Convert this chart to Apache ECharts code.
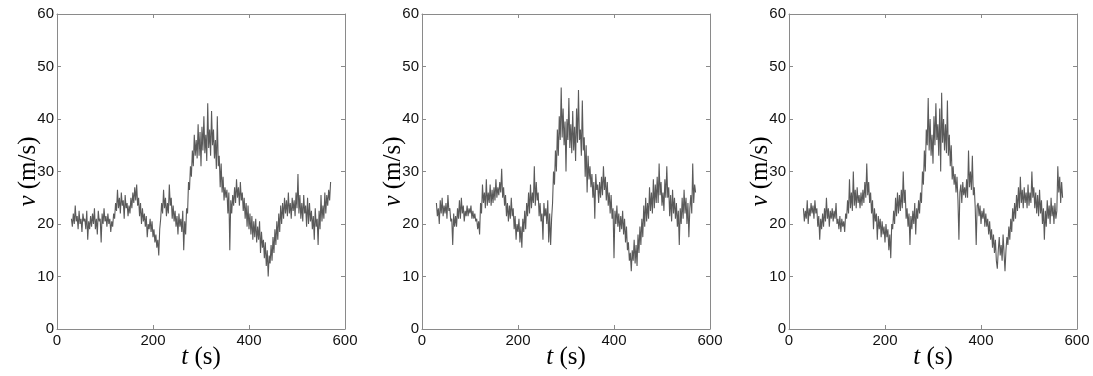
<!DOCTYPE html>
<html>
<head>
<meta charset="utf-8">
<script src="https://cdn.jsdelivr.net/npm/echarts@6/dist/echarts.min.js"></script>
<style>
html,body{margin:0;padding:0;background:#fff;}
#chart{width:1093px;height:376px;}
</style>
</head>
<body>
<div id="chart"></div>
<script>
// ---- data ----
const tStart = 30;   // s
const tStep = 2;     // s
const xTicks = [0, 200, 400, 600];
const yTicks = [0, 10, 20, 30, 40, 50, 60];

const v1 = [
21,19.5,22,20,23.5,20.5,21.5,19,22.5,20,
21,18.5,22,20.5,21,19,22.5,17,20.5,19,
21.5,19.5,22,20,23,19,21,18,22.5,20.5,
21,16.5,22,20,23,20.5,21.5,19.5,22,20,
21,18.5,20.5,19.5,22,21,24,22.5,26.5,23,
25,22,26,23.5,24.5,21,25.5,23,24,21.5,
23.5,22,25,23,26,24,27,24.5,27.5,23.5,
25,21.5,24,20,23,20.5,22,19.5,21.5,17.5,
20,19,21,18.5,20.5,17.5,19,16.5,18,15.5,
17,14,19,21,24,22,26.5,23,25,21.5,
24,22,27.5,23.5,25,21,23.5,20.5,22.5,19.5,
21.5,18,22,19.5,21,18.5,22.5,15,20.5,18,
23,22,28,26.5,31,29,34,31,37,33,
36,32.5,39,33,37.5,31,38.5,34,40.5,33.5,
37,32,43,34.5,38,33,41.5,35,38,32.5,
36,30.5,40.5,31,33,27,31.5,26,29,24.5,
27,25,26.5,22,26,15,24.5,22,25.5,23.5,
27,24,28.5,25,27,23.5,28,24.5,26,22.5,
25,21,24,19.5,23.5,19,22,18,21.5,17,
20.5,17.5,21,16.5,19.5,17,20.5,14.5,18.5,15.5,
17,13.5,16.5,12,15,10,14,12.5,16,13,
17.5,14.5,19,16,20.5,17,22,18.5,23.5,20,
24,21,25,22,24.5,21.5,26,22,24,21,
25,22.5,24.5,21.5,26,23,29.5,22,25.5,21,
24,20.5,25.5,22,23.5,19.5,25,20,24,20.5,
22.5,19,21.5,17,23,19.5,21,16,22.5,19,
25.5,20.5,23.5,21,26,22,25.5,23.5,26.5,24.5,
28
];

const v2 = [
24,21.5,23,20,24.5,22,25,21.5,23.5,22,
24,21,25.5,22.5,23,20.5,21,16,22,19.5,
21.5,19.5,23,21,24.5,21,25,22,23.5,20.5,
22.5,21.5,23.5,21.5,23,22,23.5,21,22.5,21,
22,20.5,21,19,20.5,18,24,22,27.5,24,
26,23,28.5,23.5,26,24,27.5,23.5,26.5,24,
27,24.5,28.5,25,27,25.5,28,26,30.5,25,
27,23.5,25.5,21.5,24,20.5,23.5,21,25,21.5,
23,19,21.5,17,20,18.5,21,16.5,19.5,15.5,
21,18.5,22.5,19,24,21.5,26,22,27.5,23,
26,24,31,23.5,28,24.5,26,21.5,24,20.5,
22,17,24,21.5,23,20,24.5,16.5,22,16,
21,24,30,27.5,34,30,38,33,40.5,36,
46,36.5,42,35,39.5,30,40,36,44,34.5,
39,33.5,41.5,34,38.5,32,42,35.5,45.5,36,
38,33,43.5,34,36.5,29,35,26,33,28.5,
31,27,29.5,25,28,21,29.5,26.5,27.5,24,
28,25,29,25.5,31,26.5,29,24.5,28,23.5,
26,22,25.5,21,23,13.5,22.5,20,23.5,19.5,
22,18.5,21.5,19,22.5,18,21,16.5,19.5,15,
16.5,13,14.5,11,15,13,17,12.5,16,12,
18,14.5,19.5,16,21,17.5,23.5,19.5,25,20.5,
24,21,27,22.5,26,22,28.5,23,27.5,24,
29,24,31.5,25.5,28,23.5,26,22.5,28.5,25,
31,25,27,21.5,25.5,20.5,26.5,22,25,21,
24,19.5,22.5,16,23,20,25,21,26.5,22,
25,20,24,17.5,23,25.5,22,31.5,24,27.5,
26
];

const v3 = [
23,20.5,22.5,21,24.5,20,23,21.5,24,22,
23.5,21,24.5,22,23,19.5,21.5,17,21,19,
22,19.5,23,20.5,25,21,23,19.5,22.5,21,
23,20.5,22.5,21,24,20,21,19,21.5,18.5,
21,19.5,20.5,18.5,22,21,24.5,22,28.5,23,
26,22.5,30,23.5,26.5,23,27,24,25.5,23,
26,23.5,26.5,24,28,25,31.5,25.5,28,24,
26,22,24.5,19,23,20.5,22,17,21.5,19,
21,17.5,20.5,18,19.5,16.5,20,17.5,19,15,
18,13.5,20,19,22.5,20,25,21.5,26,22,
25.5,22.5,26.5,23,30,24,26.5,21,23,19.5,
22,16,21.5,19,22.5,20,24,18,23,21,
24.5,22,26,24,30,27.5,34,30,38,35,
44,34,40,33,37,31.5,40.5,35,43,36,
39,33,42,30,45,35.5,40,34,39,33.5,
43.5,33,37,31,35,28.5,31,27.5,29.5,26,
29,24.5,17,26,27.5,24,28,25.5,27,25,
28.5,25,34,27,30,26.5,33,25.5,27,23,
16,23.5,24,21.5,23.5,20,22.5,21,23,19.5,
22,19.5,21,18,20.5,17,19,15.5,18,14.5,
17,13,11.5,15,17.5,14,16,13,18,14.5,
11,15,17.5,16,19.5,17,21,18.5,23,20.5,
24,21,25.5,22.5,27,23,29,24,26.5,23,
27,24,26,23,27.5,23.5,26,24,30,25,
27,23,26,22,25.5,21.5,26.5,22,24.5,20,
23,17,22.5,19.5,24.5,21,23.5,20,25,21.5,
23.5,20,24,21,22.5,31,26,29,24,28,
25
];

const panels = [v1, v2, v3];

// ---- layout ----
const gridLefts = [57, 422, 789];
const gridW = 288, gridTop = 14, gridH = 315;
const axisCol = '#8a8a8a';
const labelFont = {fontFamily: 'Liberation Sans, Arial, sans-serif', fontSize: 15, color: '#111'};

const grids = [], xAxes = [], yAxes = [], series = [], graphics = [];
panels.forEach((vals, i) => {
  grids.push({left: gridLefts[i], top: gridTop, width: gridW, height: gridH, containLabel: false});
  const common = {type: 'value', gridIndex: i, splitLine: {show: false},
    axisLine: {show: true, onZero: false, lineStyle: {color: axisCol, width: 1}},
    axisTick: {show: true, inside: true, length: 4, lineStyle: {color: axisCol}}};
  xAxes.push(Object.assign({}, common, {position: 'bottom', min: xTicks[0], max: xTicks[xTicks.length-1], interval: 200,
    axisLabel: Object.assign({show: true, margin: 4}, labelFont)}));
  xAxes.push(Object.assign({}, common, {position: 'top', min: xTicks[0], max: xTicks[xTicks.length-1], interval: 200,
    axisLabel: {show: false}}));
  yAxes.push(Object.assign({}, common, {position: 'left', min: yTicks[0], max: yTicks[yTicks.length-1], interval: 10,
    axisLabel: Object.assign({show: true, margin: 3}, labelFont)}));
  yAxes.push(Object.assign({}, common, {position: 'right', min: yTicks[0], max: yTicks[yTicks.length-1], interval: 10,
    axisLabel: {show: false}}));
  series.push({type: 'line', xAxisIndex: 2*i, yAxisIndex: 2*i, showSymbol: false, symbol: 'none',
    animation: false, silent: true,
    lineStyle: {color: '#5a5a5a', width: 1.1},
    data: vals.map((v, k) => [tStart + k*tStep, v])});
  const cx = gridLefts[i] + gridW/2;
  graphics.push({type: 'text', x: cx, y: 357,
    style: {text: '{i|t} (s)', font: '25px "Liberation Serif", serif', fill: '#000', align: 'center', verticalAlign: 'middle',
      rich: {i: {fontStyle: 'italic', fontFamily: 'Liberation Serif', fontSize: 25}}}});
  graphics.push({type: 'text', x: gridLefts[i] - 29, y: gridTop + gridH/2, rotation: Math.PI/2,
    style: {text: '{i|v} (m/s)', font: '25px "Liberation Serif", serif', fill: '#000', align: 'center', verticalAlign: 'middle',
      rich: {i: {fontStyle: 'italic', fontFamily: 'Liberation Serif', fontSize: 25}}}});
});

const chart = echarts.init(document.getElementById('chart'), null, {renderer: 'canvas'});
chart.setOption({
  animation: false,
  backgroundColor: '#fff',
  grid: grids, xAxis: xAxes, yAxis: yAxes, series: series, graphic: graphics
});
</script>
</body>
</html>
